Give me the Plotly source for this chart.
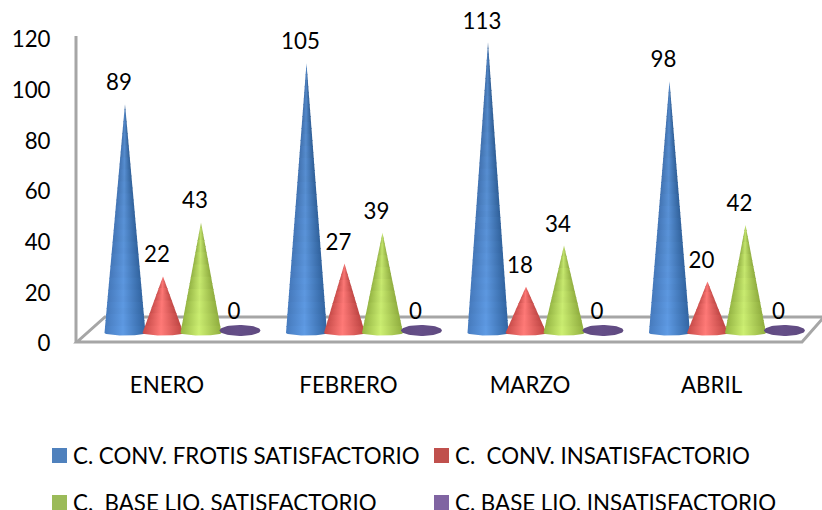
import numpy as np
import plotly.graph_objects as go

# Monthly counts per sample type
months = ["ENERO", "FEBRERO", "MARZO", "ABRIL"]
conv_satisf = [89, 105, 113, 98]
conv_insat = [22, 27, 18, 20]
liq_satisf = [43, 39, 34, 42]
liq_insat = [0, 0, 0, 0]

series_names = [
    "C. CONV. FROTIS SATISFACTORIO",
    "C.  CONV. INSATISFACTORIO",
    "C.  BASE LIQ. SATISFACTORIO",
    "C. BASE LIQ. INSATISFACTORIO",
]
series_values = [conv_satisf, conv_insat, liq_satisf, liq_insat]
swatches = ["#4f81bd", "#c0504d", "#9bbb59", "#8064a2"]
# Left edge, highlight and right edge of each cone's shading, as RGB
gradients = [
    [(66, 115, 178), (88, 144, 212), (47, 95, 152)],
    [(184, 68, 66), (240, 114, 112), (176, 63, 61)],
    [(138, 168, 62), (190, 222, 106), (134, 162, 58)],
    [(95, 74, 128), (101, 79, 136), (95, 74, 128)],
]

# Plot-area placement in the page, in pixels
LEFT, RIGHT, TOP, BOTTOM = 76, 822, 0, 350
PX_PER_GROUP = 181.5
FIRST_GROUP_PX = 167
PX_PER_TICK_UNIT = 50.67 / 20
TICK_ZERO_PX = 343.5
PX_PER_CONE_UNIT = 2.57
CONE_BASE_PX = 333
CONE_HALF_WIDTH = 20.5
BAND_PX = 6
FONT = "Lato"
FONT_SIZE = 22.3


def x_of(px):
    return (px - FIRST_GROUP_PX) / PX_PER_GROUP


def paper_x(px):
    return (px - LEFT) / (RIGHT - LEFT)


def paper_y(py):
    return (BOTTOM - py) / (BOTTOM - TOP)


def shade(rgb, factor):
    return "rgb({},{},{})".format(*[min(255, int(c * factor)) for c in rgb])


def colorscale(grad, factor):
    return [[0, shade(grad[0], factor)], [0.45, shade(grad[1], factor)], [1, shade(grad[2], factor)]]


def add_filled(xs, ys, grad, factor):
    fig.add_trace(go.Scatter(
        x=xs, y=ys, yaxis="y2", mode="lines", fill="toself",
        line=dict(width=0), showlegend=False, hoverinfo="skip",
        fillgradient=dict(type="horizontal", colorscale=colorscale(grad, factor)),
    ))


def add_cone(center, value, grad):
    """Cone drawn apex-first as stacked bands, brightening toward the base."""
    half = CONE_HALF_WIDTH / PX_PER_GROUP
    if value == 0:
        # A zero count collapses to just the base disc
        t = np.linspace(0, 2 * np.pi, 60)
        add_filled((center + half * np.cos(t)).tolist(),
                   (1 + (5.5 / PX_PER_CONE_UNIT) * np.sin(t)).tolist(), grad, 1.0)
        return
    band = BAND_PX / PX_PER_CONE_UNIT
    overlap = 1 / PX_PER_CONE_UNIT
    n = max(1, int(round(value / band)))
    edges = np.linspace(0, value, n + 1)
    for k in range(n - 1, -1, -1):
        low, high = edges[k], min(value, edges[k + 1] + overlap)
        half_low = half * (1 - low / value)
        half_high = half * (1 - high / value)
        factor = 1.08 - 0.16 * (low / 110) - 0.015 * (k % 2)
        if k == 0:
            # Bottom band carries the rounded front of the base
            t = np.linspace(0, np.pi, 30)
            xs = (center + half * np.cos(t)).tolist()
            ys = (-(2.5 / PX_PER_CONE_UNIT) * np.sin(t)).tolist()
        else:
            xs = [center + half_low, center - half_low]
            ys = [low, low]
        xs = xs + [center - half_high, center + half_high, xs[0]]
        ys = ys + [high, high, ys[0]]
        add_filled(xs, ys, grad, factor)


fig = go.Figure()

# Empty trace keeps the left value axis on the page
fig.add_trace(go.Scatter(x=[None], y=[None], showlegend=False, hoverinfo="skip"))

series_offsets_px = [-42, -4, 34, 73]

for values, grad, offset in zip(series_values, gradients, series_offsets_px):
    for i, v in enumerate(values):
        add_cone(i + offset / PX_PER_GROUP, v, grad)

# Value labels sit above each apex; the invisible marker sets the gap
for values, offset in zip(series_values, series_offsets_px):
    fig.add_trace(go.Scatter(
        x=[i + (offset - 6) / PX_PER_GROUP for i in range(len(months))],
        y=values, yaxis="y2", mode="text+markers",
        marker=dict(size=12, opacity=0),
        text=[str(v) for v in values], textposition="top center",
        textfont=dict(family=FONT, size=FONT_SIZE, color="#000000"),
        showlegend=False, hoverinfo="skip", cliponaxis=False,
    ))

frame_color = "#a6a6a6"
floor_path = "M {} {} L {} {} L {} {} L {} {} Z".format(
    paper_x(77), paper_y(342), paper_x(802), paper_y(342),
    paper_x(824), paper_y(317), paper_x(105), paper_y(317),
)
shapes = [
    dict(type="path", path=floor_path, xref="paper", yref="paper", layer="below",
         fillcolor="#ffffff", line=dict(color=frame_color, width=3)),
    dict(type="line", xref="paper", yref="paper", layer="below",
         x0=paper_x(76), x1=paper_x(76), y0=paper_y(36), y1=paper_y(343),
         line=dict(color=frame_color, width=3)),
]

# Legend laid out by hand in two rows: swatch plus label
legend_slots = [(52, 71, 455.5), (434, 453, 455.5), (52, 71, 502.5), (434, 453, 502.5)]
annotations = []
for name, color, (sx, tx, sy) in zip(series_names, swatches, legend_slots):
    shapes.append(dict(
        type="rect", xref="paper", yref="paper", layer="above",
        x0=paper_x(sx), x1=paper_x(sx + 15),
        y0=paper_y(sy - 7.5), y1=paper_y(sy + 7.5),
        fillcolor=color, line=dict(width=0),
    ))
    annotations.append(dict(
        text=name, xref="paper", yref="paper", showarrow=False,
        x=paper_x(tx), y=paper_y(sy), xanchor="left", yanchor="middle",
        font=dict(family=FONT, size=FONT_SIZE, color="#000000"),
    ))

fig.update_layout(
    width=822, height=510,
    margin=dict(l=LEFT, r=0, t=TOP, b=510 - BOTTOM, pad=0, autoexpand=False),
    paper_bgcolor="#ffffff", plot_bgcolor="#ffffff",
    shapes=shapes, annotations=annotations, showlegend=False,
    xaxis=dict(
        range=[x_of(LEFT), x_of(RIGHT)],
        tickmode="array", tickvals=list(range(len(months))), ticktext=months,
        showgrid=False, zeroline=False, showline=False,
        ticks="outside", ticklen=15, tickcolor="rgba(0,0,0,0)",
        tickfont=dict(family=FONT, size=FONT_SIZE, color="#000000"),
    ),
    yaxis=dict(
        range=[-(BOTTOM - TICK_ZERO_PX) / PX_PER_TICK_UNIT, TICK_ZERO_PX / PX_PER_TICK_UNIT],
        tickmode="array", tickvals=[0, 20, 40, 60, 80, 100, 120],
        showgrid=False, zeroline=False, showline=False,
        ticks="outside", ticklen=20, tickcolor="rgba(0,0,0,0)",
        tickfont=dict(family=FONT, size=FONT_SIZE, color="#000000"),
    ),
    yaxis2=dict(
        overlaying="y", visible=False,
        range=[-(BOTTOM - CONE_BASE_PX) / PX_PER_CONE_UNIT, CONE_BASE_PX / PX_PER_CONE_UNIT],
    ),
)

fig.write_html("out.html", config=dict(displayModeBar=False))
